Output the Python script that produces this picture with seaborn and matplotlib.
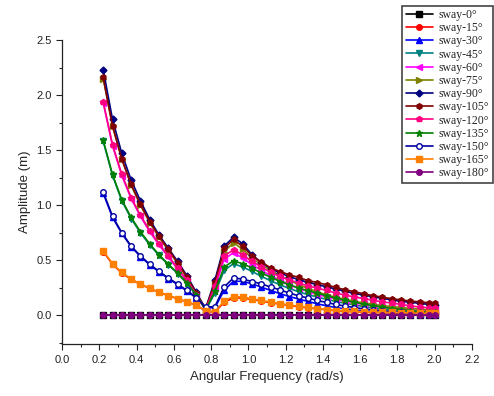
import matplotlib
matplotlib.use("Agg")
import matplotlib.pyplot as plt
from matplotlib.ticker import MultipleLocator
import seaborn as sns
import pandas as pd

freq = [0.22, 0.27, 0.32, 0.37, 0.42, 0.47, 0.52, 0.57, 0.62, 0.67, 0.72, 0.77,
        0.82, 0.87, 0.92, 0.97, 1.02, 1.07, 1.12, 1.17, 1.22, 1.27, 1.32, 1.37,
        1.42, 1.47, 1.52, 1.57, 1.62, 1.67, 1.72, 1.77, 1.82, 1.87, 1.92, 1.97, 2.0]

sway_0 = [0.0] * 37
sway_15 = [0.58, 0.465, 0.385, 0.327, 0.282, 0.245, 0.21, 0.179, 0.152, 0.122, 0.093, 0.04,
           0.03, 0.12, 0.16, 0.158, 0.145, 0.13, 0.116, 0.102, 0.092, 0.078, 0.069, 0.06,
           0.051, 0.043, 0.038, 0.034, 0.031, 0.028, 0.026, 0.024, 0.022, 0.02, 0.018, 0.017, 0.016]
sway_30 = [1.11, 0.89, 0.745, 0.625, 0.535, 0.46, 0.395, 0.335, 0.28, 0.222, 0.158, 0.07,
           0.07, 0.23, 0.31, 0.31, 0.287, 0.257, 0.227, 0.197, 0.172, 0.149, 0.127, 0.106,
           0.088, 0.072, 0.06, 0.05, 0.042, 0.035, 0.029, 0.024, 0.02, 0.017, 0.014, 0.012, 0.011]
sway_45 = [1.58, 1.27, 1.04, 0.88, 0.75, 0.64, 0.545, 0.46, 0.38, 0.29, 0.185, 0.05,
           0.20, 0.41, 0.47, 0.439, 0.40, 0.354, 0.315, 0.278, 0.245, 0.215, 0.19, 0.167,
           0.146, 0.127, 0.11, 0.095, 0.081, 0.068, 0.057, 0.047, 0.039, 0.032, 0.026, 0.022, 0.02]
sway_60 = [1.93, 1.54, 1.27, 1.06, 0.90, 0.76, 0.64, 0.53, 0.42, 0.31, 0.18, 0.05,
           0.25, 0.51, 0.57, 0.52, 0.46, 0.41, 0.36, 0.32, 0.28, 0.25, 0.22, 0.19,
           0.17, 0.15, 0.13, 0.115, 0.10, 0.088, 0.077, 0.068, 0.06, 0.053, 0.047, 0.042, 0.04]
sway_75 = [2.15, 1.72, 1.42, 1.18, 1.00, 0.84, 0.71, 0.59, 0.47, 0.34, 0.20, 0.06,
           0.29, 0.58, 0.66, 0.60, 0.52, 0.46, 0.41, 0.36, 0.32, 0.28, 0.245, 0.215,
           0.185, 0.165, 0.145, 0.128, 0.113, 0.10, 0.09, 0.08, 0.072, 0.064, 0.057, 0.05, 0.046]
sway_90 = [2.23, 1.78, 1.47, 1.23, 1.04, 0.87, 0.73, 0.61, 0.49, 0.36, 0.21, 0.06,
           0.32, 0.63, 0.71, 0.65, 0.55, 0.48, 0.425, 0.385, 0.352, 0.325, 0.30, 0.28,
           0.26, 0.24, 0.22, 0.20, 0.185, 0.17, 0.155, 0.142, 0.13, 0.12, 0.11, 0.10, 0.095]
sway_105 = [2.16, 1.72, 1.42, 1.19, 1.01, 0.85, 0.72, 0.60, 0.48, 0.35, 0.20, 0.06,
            0.30, 0.61, 0.69, 0.626, 0.541, 0.484, 0.432, 0.399, 0.369, 0.345, 0.317, 0.299,
            0.278, 0.254, 0.233, 0.215, 0.197, 0.179, 0.167, 0.151, 0.142, 0.130, 0.124, 0.115, 0.112]
sway_120 = [1.94, 1.55, 1.28, 1.07, 0.91, 0.77, 0.65, 0.54, 0.43, 0.32, 0.19, 0.05,
            0.27, 0.54, 0.596, 0.55, 0.49, 0.44, 0.39, 0.354, 0.324, 0.294, 0.269, 0.248,
            0.227, 0.203, 0.185, 0.167, 0.154, 0.136, 0.124, 0.112, 0.10, 0.088, 0.076, 0.07, 0.067]
sway_135 = [1.59, 1.28, 1.05, 0.89, 0.76, 0.65, 0.55, 0.465, 0.385, 0.295, 0.19, 0.05,
            0.22, 0.44, 0.496, 0.469, 0.43, 0.384, 0.348, 0.308, 0.278, 0.248, 0.224, 0.203,
            0.179, 0.158, 0.138, 0.12, 0.103, 0.088, 0.075, 0.063, 0.053, 0.044, 0.036, 0.03, 0.027]
sway_150 = [1.12, 0.90, 0.75, 0.63, 0.54, 0.465, 0.40, 0.34, 0.285, 0.227, 0.163, 0.076,
            0.08, 0.26, 0.34, 0.33, 0.308, 0.287, 0.257, 0.233, 0.203, 0.179, 0.158, 0.136,
            0.118, 0.10, 0.085, 0.072, 0.06, 0.05, 0.042, 0.035, 0.029, 0.024, 0.02, 0.017, 0.015]
sway_165 = [0.587, 0.47, 0.39, 0.33, 0.285, 0.248, 0.212, 0.181, 0.154, 0.124, 0.095, 0.042,
            0.034, 0.133, 0.172, 0.167, 0.151, 0.136, 0.121, 0.106, 0.097, 0.082, 0.073, 0.063,
            0.054, 0.045, 0.04, 0.037, 0.034, 0.031, 0.029, 0.027, 0.025, 0.023, 0.021, 0.02, 0.02]
sway_180 = [0.0] * 37

labels = ["sway-0°", "sway-15°", "sway-30°", "sway-45°", "sway-60°", "sway-75°",
          "sway-90°", "sway-105°", "sway-120°", "sway-135°", "sway-150°",
          "sway-165°", "sway-180°"]
series = [sway_0, sway_15, sway_30, sway_45, sway_60, sway_75, sway_90,
          sway_105, sway_120, sway_135, sway_150, sway_165, sway_180]
colors = ["#000000", "#FF0000", "#0000FF", "#008080", "#FF00FF", "#808000",
          "#000080", "#800000", "#FF0080", "#008000", "#0000A0", "#FF8000", "#800080"]
markers = ["s", "o", "^", "v", "<", ">", "D", "h", "p", "*", "o", "s", "o"]

sns.set_style("ticks")
plt.rcParams["font.family"] = ["Liberation Sans", "DejaVu Sans"]

fig = plt.figure(figsize=(4.94, 3.96), dpi=100)
ax = fig.add_axes([0.126, 0.131, 0.829, 0.768])

for lab, vals, col, mk in zip(labels, series, colors, markers):
    df = pd.DataFrame({"freq": freq, "amp": vals})
    face = "white" if lab == "sway-150°" else col
    ms = 5 if mk == "*" else (3.5 if mk == "D" else 4.0)
    sns.lineplot(data=df, x="freq", y="amp", ax=ax, color=col, marker=mk,
                 markersize=ms, markerfacecolor=face, markeredgecolor=col,
                 markeredgewidth=1.0, linewidth=1.2, label=lab, legend=False)

ax.set_xlim(0.0, 2.2)
ax.set_ylim(-0.26, 2.5)
ax.xaxis.set_major_locator(MultipleLocator(0.2))
ax.xaxis.set_minor_locator(MultipleLocator(0.1))
ax.yaxis.set_major_locator(MultipleLocator(0.5))
ax.yaxis.set_minor_locator(MultipleLocator(0.25))
ax.tick_params(which="major", direction="out", length=4, width=0.8, labelsize=8, colors="#222222")
ax.tick_params(which="minor", direction="out", length=2.5, width=0.8)
ax.set_xticklabels([f"{v:.1f}" for v in ax.get_xticks()])
ax.set_yticklabels([f"{v:.1f}" for v in ax.get_yticks()])
ax.set_xlim(0.0, 2.2)
ax.set_ylim(-0.26, 2.5)
sns.despine(ax=ax)
for sp in ["left", "bottom"]:
    ax.spines[sp].set_color("#222222")
    ax.spines[sp].set_linewidth(0.9)
ax.set_xlabel("Angular Frequency (rad/s)", fontsize=9.5, labelpad=5)
ax.set_ylabel("Amplitude (m)", fontsize=9.5, labelpad=4)

handles, labs = ax.get_legend_handles_labels()
leg = fig.legend(handles, labs, loc="upper right", bbox_to_anchor=(1.003, 0.992),
                 prop={"family": ["Liberation Serif", "DejaVu Serif"], "size": 8.5},
                 frameon=True, fancybox=False, edgecolor="#444444", framealpha=1,
                 handlelength=2.3, handletextpad=0.5, labelspacing=0.1,
                 borderpad=0.3, borderaxespad=0.2)
leg.get_frame().set_linewidth(1.2)

fig.savefig("out.png", dpi=100)
